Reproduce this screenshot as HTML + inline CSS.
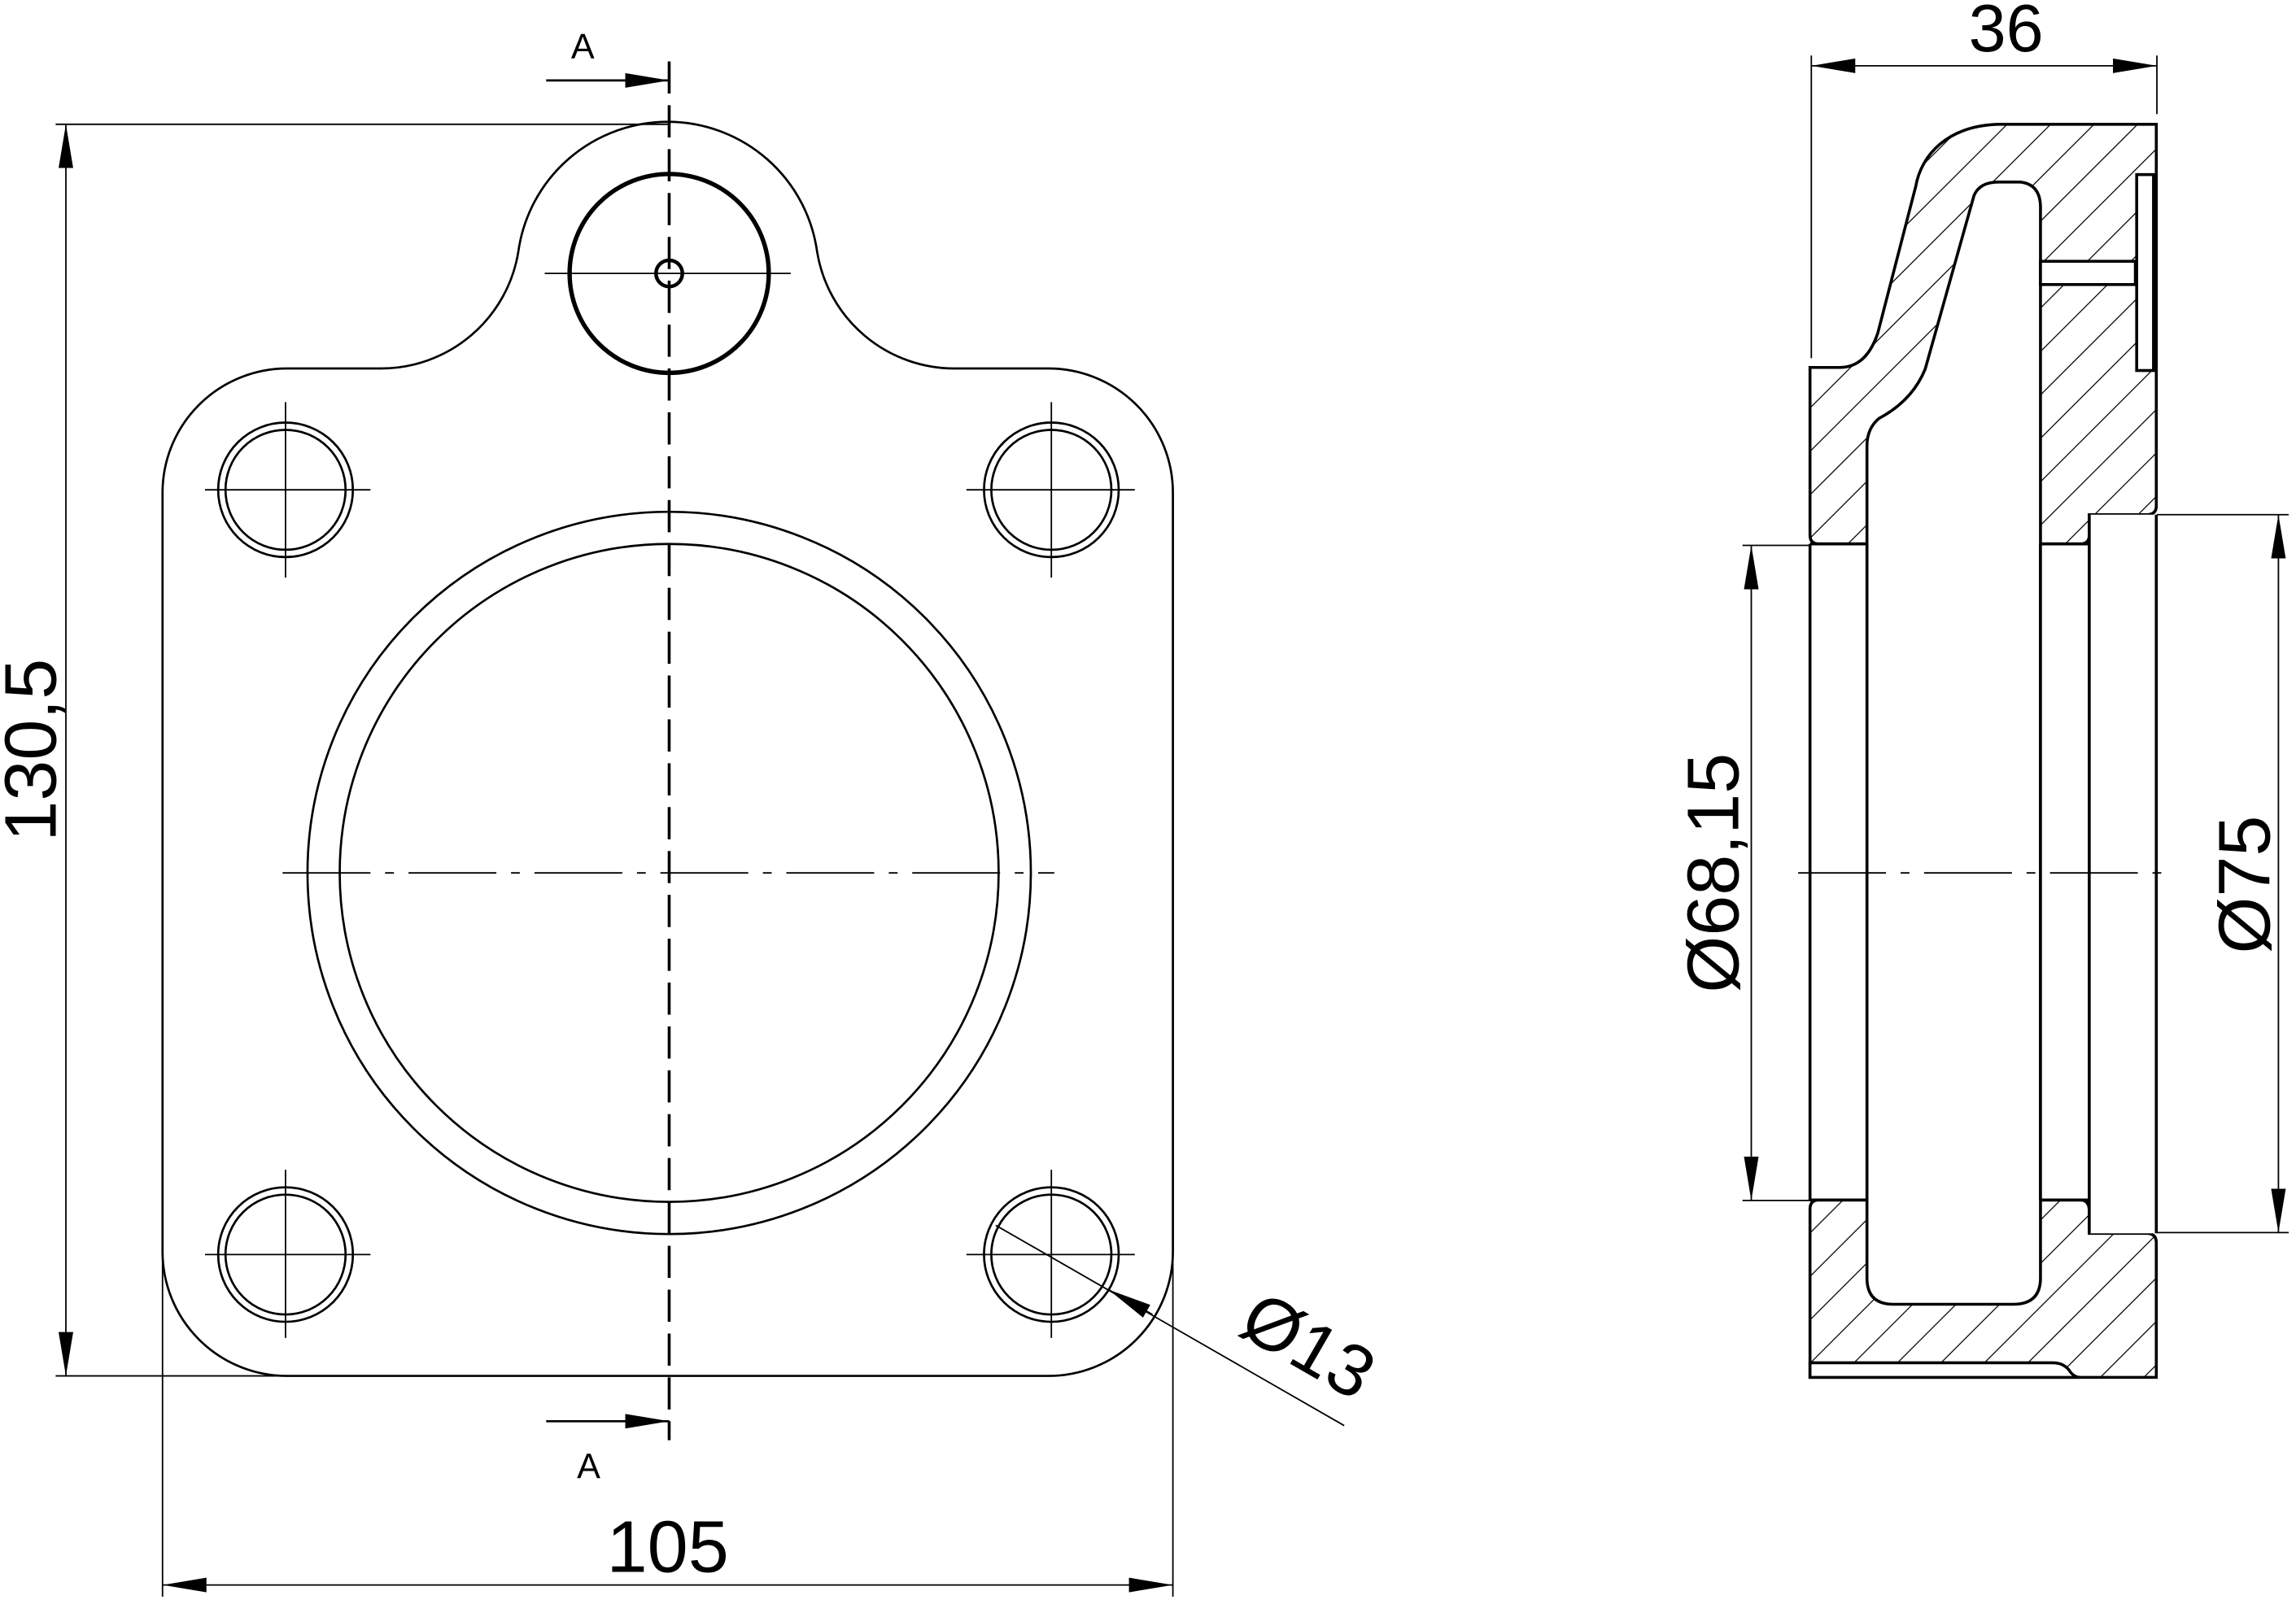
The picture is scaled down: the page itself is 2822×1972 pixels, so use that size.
<!DOCTYPE html>
<html><head><meta charset="utf-8"><style>
html,body{margin:0;padding:0;background:#fff}
svg{display:block}
text{font-family:"Liberation Sans",sans-serif;fill:#000}
</style></head><body>
<svg width="2822" height="1972" viewBox="0 0 1568 1097" preserveAspectRatio="none" xmlns="http://www.w3.org/2000/svg">
<defs>
<pattern id="h" patternUnits="userSpaceOnUse" width="21" height="21" patternTransform="rotate(45)">
<line x1="0" y1="0" x2="0" y2="21" stroke="#000" stroke-width="1.4"/>
</pattern>
<marker id="a" viewBox="0 0 30 10" refX="30" refY="5" markerWidth="30" markerHeight="10" markerUnits="userSpaceOnUse" orient="auto-start-reverse">
<path d="M0,0 L30,5 L0,10 Z" fill="#000"/>
</marker>
</defs>
<g fill="none" stroke="#000" stroke-width="1.5">
<!-- LEFT VIEW -->
<path d="M196,252 L260,252 A95,95 0 0 0 354,172 A103,103 0 0 1 558,172 A95,95 0 0 0 653,252 L716,252 A85,85 0 0 1 801,337 L801,856 A85,85 0 0 1 716,941 L196,941 A85,85 0 0 1 111,856 L111,337 A85,85 0 0 1 196,252 Z"/>
<circle cx="457" cy="187" r="68" stroke-width="3"/>
<circle cx="457" cy="187" r="9" stroke-width="2.5"/>
<g>
<circle cx="195" cy="335" r="46"/><circle cx="195" cy="335" r="41"/>
<circle cx="718" cy="335" r="46"/><circle cx="718" cy="335" r="41"/>
<circle cx="195" cy="858" r="46"/><circle cx="195" cy="858" r="41"/>
<circle cx="718" cy="858" r="46"/><circle cx="718" cy="858" r="41"/>
</g>
<circle cx="457" cy="597" r="247"/>
<circle cx="457" cy="597" r="225"/>
<g stroke-width="1">
<path d="M140,335 H253 M195,275 V395 M660,335 H775 M718,275 V395 M140,858 H253 M195,800 V915 M660,858 H775 M718,800 V915 M372,187 H540"/>
<path d="M193,597 H720" stroke-dasharray="60,10,6,10"/>
</g>
<path d="M457,42 V985" stroke-width="2" stroke-dasharray="22,8"/>
<path d="M373,55 H457" stroke-width="1.5" marker-end="url(#a)"/>
<path d="M373,972 H457" stroke-width="1.5" marker-end="url(#a)"/>
<g stroke-width="1">
<path d="M38,85 H457 M38,941 H196 M111,856 V1092 M801,856 V1092"/>
<path d="M45,85 V941" marker-start="url(#a)" marker-end="url(#a)"/>
<path d="M111,1084 H801" marker-start="url(#a)" marker-end="url(#a)"/>
<path d="M918,975 L680,838"/>
<path d="M787,899 L757,882" marker-end="url(#a)"/>
</g>
<!-- RIGHT VIEW SECTION -->
<path d="M1472.6,85 L1364.8,85 C1330,86 1312,106 1308.3,127.5 L1282.4,227.8 C1277,244 1268,251.3 1256.5,251.3 L1236.1,251.3 L1236.1,366 Q1236.1,372 1242,372 L1421,372 Q1426.8,372 1426.8,366 L1426.8,352 L1466,352 Q1472.6,352 1472.6,346 Z" fill="url(#h)" stroke-width="2"/>
<path d="M1236.1,827 Q1236.1,820.7 1242,820.7 L1421,820.7 Q1426.8,821 1426.8,828 L1426.8,843.5 L1466,843.5 Q1472.6,843.5 1472.6,850 L1472.6,942 L1236.1,942 Z" fill="url(#h)" stroke-width="2"/>
<path d="M1236.1,932 L1401.9,932 Q1409,932 1413,937 Q1416,942 1421,942 L1236.1,942 Z" fill="#fff" stroke-width="2"/>
<path d="M1275,874 L1275,305 Q1275,293 1283.3,286.1 Q1306,274 1314.8,252.3 L1348.1,133.7 Q1352,124.5 1364.8,124.5 L1379.6,124.5 Q1393.5,126 1393.5,141.9 L1393.5,874 Q1393.5,892 1375,892 L1293,892 Q1275,892 1275,874 Z" fill="#fff" stroke-width="2"/>
<rect x="1236.1" y="372" width="38.9" height="448.7" fill="#fff" stroke="none"/>
<rect x="1393.5" y="372" width="33.3" height="448.7" fill="#fff" stroke="none"/>
<rect x="1426.8" y="352" width="45.8" height="491.5" fill="#fff" stroke="none"/>
<path d="M1236.1,372 V820.7 M1275,372 V820.7 M1393.5,372 V820.7 M1426.8,352 V843.5 M1472.6,352 V843.5 M1236.1,372 H1275 M1236.1,820.7 H1275 M1393.5,372 H1426.8 M1393.5,820.7 H1426.8" stroke-width="2"/>
<rect x="1459.2" y="119.4" width="11.5" height="134" fill="#fff" stroke-width="2"/>
<rect x="1393.5" y="178.7" width="64.8" height="15.9" fill="#fff" stroke-width="2"/>
<path d="M1471.5,120 V253" stroke-width="3"/>
<g stroke-width="1">
<path d="M1237,38 V245 M1473,38 V78"/>
<path d="M1237,45 H1473" marker-start="url(#a)" marker-end="url(#a)"/>
<path d="M1190,373 H1237 M1190,821 H1237"/>
<path d="M1196,373 V821" marker-start="url(#a)" marker-end="url(#a)"/>
<path d="M1473,352 H1563 M1473,843 H1563"/>
<path d="M1556,352 V843" marker-start="url(#a)" marker-end="url(#a)"/>
<path d="M1228,597 H1480" stroke-dasharray="60,10,6,10"/>
</g>
</g>
<text x="398" y="40" font-size="24" text-anchor="middle">A</text>
<text x="402" y="1011" font-size="24" text-anchor="middle">A</text>
<text transform="translate(38,513) rotate(-90)" font-size="50" text-anchor="middle">130,5</text>
<text x="456" y="1075" font-size="50" text-anchor="middle">105</text>
<text transform="translate(885,935) rotate(30)" font-size="50" text-anchor="middle">Ø13</text>
<text x="1370" y="35" font-size="46" text-anchor="middle">36</text>
<text transform="translate(1187,597) rotate(-90)" font-size="50" text-anchor="middle">Ø68,15</text>
<text transform="translate(1550,605) rotate(-90)" font-size="50" text-anchor="middle">Ø75</text>
</svg>
</body></html>
